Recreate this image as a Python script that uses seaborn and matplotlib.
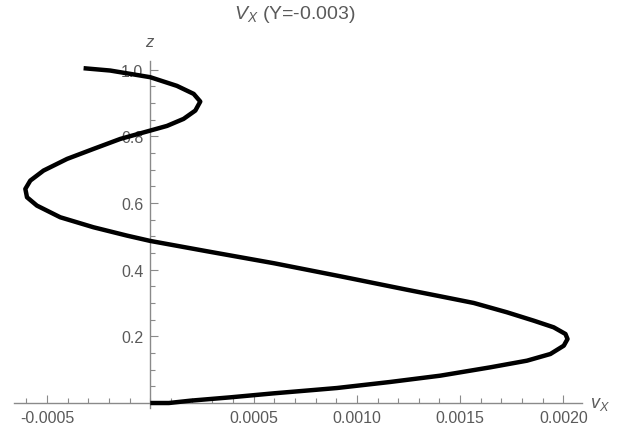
import matplotlib
matplotlib.use("Agg")
import matplotlib.pyplot as plt
from matplotlib.ticker import MultipleLocator, FixedLocator, FuncFormatter
import seaborn as sns
import pandas as pd

# Data (curve ordered from z=0 to z=1)
z_vals = [0.000, 0.000, 0.007, 0.017, 0.029, 0.039, 0.045, 0.063, 0.082, 0.107,
          0.127, 0.147, 0.172, 0.192, 0.207, 0.227, 0.247, 0.272, 0.300, 0.320,
          0.340, 0.380, 0.419, 0.455, 0.486, 0.502, 0.527, 0.557, 0.592, 0.617,
          0.642, 0.667, 0.697, 0.732, 0.762, 0.792, 0.817, 0.831, 0.852, 0.877,
          0.904, 0.927, 0.951, 0.977, 0.997, 1.004]
vx_vals = [0.0, 0.00009, 0.000194, 0.000387, 0.000597, 0.00079, 0.000904, 0.00116, 0.001404, 0.001646,
           0.001824, 0.001937, 0.002002, 0.00202, 0.00201, 0.001953, 0.001856, 0.001727, 0.001566, 0.001404,
           0.00124, 0.00092, 0.0006, 0.000275, 0.0, -0.000113, -0.000275, -0.000436, -0.000549, -0.000597,
           -0.000605, -0.000581, -0.000517, -0.000403, -0.000275, -0.000145, 0.0, 0.000081, 0.000161, 0.000218,
           0.000242, 0.00021, 0.000129, 0.0, -0.000194, -0.000323]

x_major_ticks = [-0.0005, 0.0005, 0.0010, 0.0015, 0.0020]
y_major_ticks = [0.2, 0.4, 0.6, 0.8, 1.0]
title_text = r"$V_X$ (Y=-0.003)"
x_label = r"$v_X$"
y_label = r"$z$"

sns.set_style("white")
plt.rcParams["font.family"] = ["Liberation Sans", "DejaVu Sans"]
plt.rcParams["mathtext.fontset"] = "custom"
plt.rcParams["mathtext.it"] = "Liberation Sans:italic"
plt.rcParams["mathtext.rm"] = "Liberation Sans"
plt.rcParams["axes.unicode_minus"] = False

axis_col = "#8a8a8a"
text_col = "#5a5a5a"

df = pd.DataFrame({"vx": vx_vals, "z": z_vals})

fig = plt.figure(figsize=(6.27, 4.39), dpi=100)
ax = fig.add_axes([0.0223, 0.0683, 0.9059, 0.790])

sns.lineplot(data=df, x="vx", y="z", sort=False, estimator=None,
             color="black", linewidth=3.2, ax=ax, zorder=5,
             solid_joinstyle="round", solid_capstyle="butt")

ax.set_xlim(-0.00066, 0.00209)
ax.set_ylim(-0.015, 1.025)

for s in ["top", "right"]:
    ax.spines[s].set_visible(False)
ax.spines["left"].set_position(("data", 0))
ax.spines["bottom"].set_position(("data", 0))
for s in ["left", "bottom"]:
    ax.spines[s].set_color(axis_col)
    ax.spines[s].set_linewidth(1.0)

ax.xaxis.set_major_locator(FixedLocator(x_major_ticks))
ax.xaxis.set_minor_locator(MultipleLocator(0.0001))
ax.yaxis.set_major_locator(FixedLocator(y_major_ticks))
ax.yaxis.set_minor_locator(MultipleLocator(0.05))
ax.xaxis.set_major_formatter(FuncFormatter(lambda v, p: f"{v:.4f}"))
ax.yaxis.set_major_formatter(FuncFormatter(lambda v, p: f"{v:.1f}"))

ax.tick_params(axis="x", which="both", bottom=True, top=False)
ax.tick_params(axis="y", which="both", left=True, right=False)
ax.tick_params(axis="x", which="major", direction="in", length=6, width=0.8,
               color=axis_col, labelcolor=text_col, labelsize=11.5, pad=5)
ax.tick_params(axis="x", which="minor", direction="in", length=3.5, width=0.8,
               color=axis_col)
ax.tick_params(axis="y", which="major", direction="in", length=6, width=0.8,
               color=axis_col, labelcolor=text_col, labelsize=11.5, pad=5)
ax.tick_params(axis="y", which="minor", direction="in", length=3.5, width=0.8,
               color=axis_col)

ax.set_xlabel("")
ax.set_ylabel("")
ax.grid(False)

ax.text(0, 1.085, y_label, ha="center", va="center", fontsize=12,
        color=text_col, clip_on=False)
ax.text(0.00213, 0.0, x_label, ha="left", va="center", fontsize=13,
        color=text_col, clip_on=False)
fig.text(295 / 627, 0.966, title_text, ha="center", va="center",
         fontsize=14, color=text_col)

fig.savefig("out.png", dpi=100)
